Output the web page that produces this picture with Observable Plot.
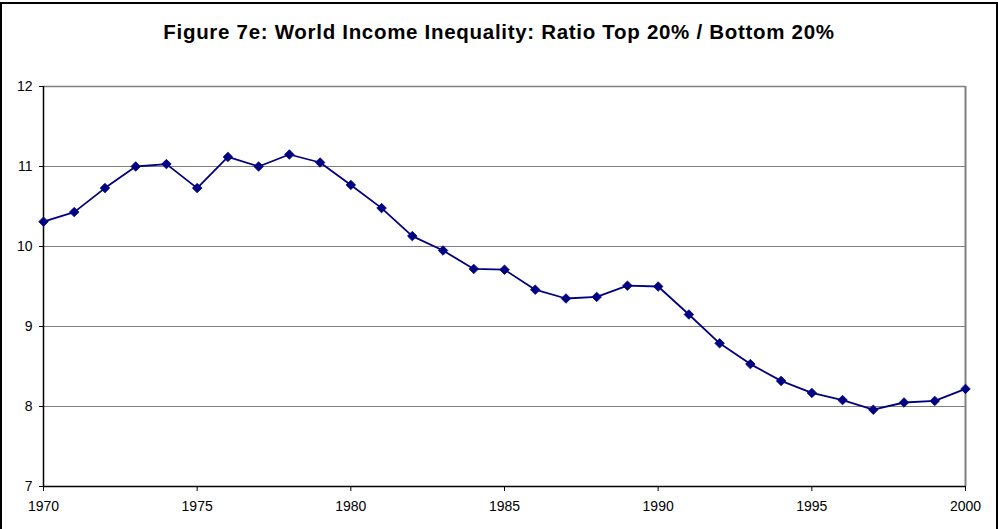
<!DOCTYPE html>
<html>
<head>
<meta charset="utf-8">
<script src="https://cdn.jsdelivr.net/npm/d3@7"></script>
<script src="https://cdn.jsdelivr.net/npm/@observablehq/plot@0.6"></script>
<style>
  html, body { margin: 0; padding: 0; background: #fff; }
  #wrap { position: relative; width: 998px; height: 529px; overflow: hidden; font-family: "Liberation Sans", Arial, sans-serif; }
  #frame { position: absolute; left: 0; top: 2px; width: 998px; height: 560px; box-sizing: border-box; border: 2px solid #000; }
  #title { position: absolute; left: 0; top: 22px; width: 998px; text-align: center; font-weight: bold; font-size: 20.5px; line-height: 20px; letter-spacing: 0.7px; color: #000; }
  #chart { position: absolute; left: 0; top: 0; }
</style>
</head>
<body>
<div id="wrap">
  <div id="frame"></div>
  <div id="title">Figure 7e: World Income Inequality: Ratio Top 20% / Bottom 20%</div>
  <div id="chart"></div>
</div>
<script>
// Ratio of income of the top 20% to the bottom 20%, 1970–2000
const years = [1970, 1971, 1972, 1973, 1974, 1975, 1976, 1977, 1978, 1979,
               1980, 1981, 1982, 1983, 1984, 1985, 1986, 1987, 1988, 1989,
               1990, 1991, 1992, 1993, 1994, 1995, 1996, 1997, 1998, 1999, 2000];
const ratio = [10.31, 10.43, 10.73, 11.00, 11.03, 10.73, 11.12, 11.00, 11.15, 11.05,
               10.77, 10.48, 10.13, 9.95, 9.72, 9.71, 9.46, 9.35, 9.37, 9.51,
               9.50, 9.15, 8.79, 8.53, 8.32, 8.17, 8.08, 7.96, 8.05, 8.07, 8.22];
const xTicks = [1970, 1975, 1980, 1985, 1990, 1995, 2000];
const yTicks = [7, 8, 9, 10, 11, 12];

const data = years.map((year, i) => ({year, value: ratio[i]}));
const navy = "#000080";
const labelFont = "'Liberation Sans', Arial, sans-serif";

const chart = Plot.plot({
  width: 998,
  height: 529,
  marginLeft: 43,
  marginRight: 33,
  marginTop: 86,
  marginBottom: 43,
  style: {fontFamily: labelFont, fontSize: "14px", color: "#000", background: "transparent"},
  x: {domain: [1970, 2000]},
  y: {domain: [7, 12]},
  marks: [
    Plot.ruleY(yTicks.slice(1), {stroke: "#808080", strokeWidth: 1}),
    Plot.ruleY([12], {stroke: "#808080", strokeWidth: 1.5}),
    Plot.ruleX([2000], {stroke: "#808080", strokeWidth: 2}),
    Plot.axisX({ticks: xTicks, tickFormat: d => String(d), tickSize: 5, tickPadding: 10, label: null,
                fontSize: 14, stroke: "#000", strokeOpacity: 1}),
    Plot.axisY({ticks: yTicks, tickFormat: d => String(d), tickSize: 4, tickPadding: 7, label: null,
                fontSize: 14, stroke: "#000", strokeOpacity: 1}),
    Plot.ruleY([7], {stroke: "#000", strokeWidth: 1.5}),
    Plot.ruleX([1970], {stroke: "#000", strokeWidth: 1.5}),
    Plot.line(data, {x: "year", y: "value", stroke: navy, strokeWidth: 1.8}),
    Plot.dot(data, {x: "year", y: "value", symbol: "diamond2", r: 4.3, fill: navy, stroke: navy, strokeWidth: 0.8})
  ]
});
document.getElementById("chart").appendChild(chart);
</script>
</body>
</html>
